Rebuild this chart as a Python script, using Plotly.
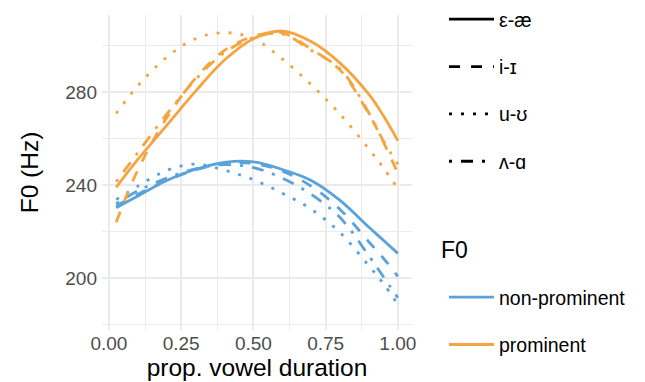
import plotly.graph_objects as go

# ---- data ----
x_prop = [0.025, 0.1, 0.2, 0.3, 0.4, 0.5, 0.6, 0.7, 0.8, 0.9, 0.95, 1.0]

vowels = ["ε-æ", "i-ɪ", "u-ʊ", "ʌ-ɑ"]
prominence = ["non-prominent", "prominent"]

# prominent (orange)
prom_eae = [239.0, 251.0, 265.7, 280.4, 293.8, 303.0, 306.3, 301.8, 292.5, 279.0, 269.8, 259.1]
prom_iI = [224.0, 246.5, 269.0, 286.0, 298.0, 304.0, 305.5, 298.5, 289.5, 270.5, 258.5, 245.0]
prom_uU = [270.8, 282.7, 295.0, 303.0, 305.6, 303.0, 294.3, 283.2, 270.5, 255.5, 247.4, 238.5]
prom_Va = [241.4, 254.0, 270.5, 285.5, 297.0, 303.5, 305.0, 298.0, 290.0, 271.0, 259.0, 249.0]

# non-prominent (blue)
nonp_eae = [230.2, 235.3, 242.0, 246.8, 249.8, 250.0, 246.7, 242.0, 233.4, 221.8, 216.2, 210.6]
nonp_iI = [231.0, 236.0, 242.0, 246.5, 249.3, 249.3, 246.0, 239.5, 229.5, 215.5, 208.5, 200.7]
nonp_uU = [233.7, 239.5, 246.3, 249.0, 246.4, 242.3, 236.5, 229.6, 219.5, 205.2, 197.6, 188.6]
nonp_Va = [232.0, 237.5, 243.0, 247.0, 248.8, 247.5, 243.0, 236.0, 226.0, 209.5, 200.5, 191.5]

x_ticks = [0.0, 0.25, 0.5, 0.75, 1.0]
x_ticklabels = ["0.00", "0.25", "0.50", "0.75", "1.00"]
y_ticks = [200, 240, 280]

# ---- styles ----
colors = {"non-prominent": "#5AA3DA", "prominent": "#F5A540"}
LW = 2.8
dashes = {
    "ε-æ": "solid",
    "i-ɪ": "11px,11px",
    "u-ʊ": "3px,9px",
    "ʌ-ɑ": "3px,9px,12px,9px",
}

series = {
    ("non-prominent", "ε-æ"): nonp_eae,
    ("non-prominent", "i-ɪ"): nonp_iI,
    ("non-prominent", "u-ʊ"): nonp_uU,
    ("non-prominent", "ʌ-ɑ"): nonp_Va,
    ("prominent", "ε-æ"): prom_eae,
    ("prominent", "i-ɪ"): prom_iI,
    ("prominent", "u-ʊ"): prom_uU,
    ("prominent", "ʌ-ɑ"): prom_Va,
}

FONT = "Liberation Sans, Arial, DejaVu Sans, sans-serif"

fig = go.Figure()
for (p, v), ys in series.items():
    fig.add_trace(go.Scatter(
        x=x_prop, y=ys, mode="lines",
        line=dict(color=colors[p], width=LW, dash=dashes[v], shape="spline", smoothing=1.0),
        showlegend=False, hoverinfo="skip",
    ))

# legend entries: linetype
for v in vowels:
    fig.add_trace(go.Scatter(
        x=[None], y=[None], mode="lines", name=v,
        line=dict(color="black", width=LW, dash=dashes[v]),
        legend="legend", legendgroup="lt_" + v,
    ))
# legend entries: colour
for p in prominence:
    fig.add_trace(go.Scatter(
        x=[None], y=[None], mode="lines", name=p,
        line=dict(color=colors[p], width=LW),
        legend="legend2", legendgroup="col_" + p,
    ))

grid_col = "#EBEBEB"
W, H = 645, 382
PL, PR, PT, PB = 94, 404, 7, 322  # plot panel in pixels
fig.update_layout(
    width=W, height=H,
    margin=dict(l=PL, r=W - PR, t=PT, b=H - PB, autoexpand=False),
    paper_bgcolor="white", plot_bgcolor="white",
    font=dict(family=FONT, color="black", size=20),
    xaxis=dict(
        range=[-0.024, 1.049], tickvals=x_ticks, ticktext=x_ticklabels,
        showgrid=True, gridcolor=grid_col, gridwidth=1.8,
        minor=dict(dtick=0.125, tick0=0.125, showgrid=True, gridcolor=grid_col,
                   gridwidth=0.9, ticks=""),
        zeroline=False, showline=False, ticks="",
        tickfont=dict(size=19, color="#4D4D4D"), ticklabelstandoff=0,
        title=dict(text="prop. vowel duration", font=dict(size=24.5, color="black"), standoff=0),
    ),
    yaxis=dict(
        range=[177.6, 313.2], tickvals=y_ticks,
        showgrid=True, gridcolor=grid_col, gridwidth=1.8,
        minor=dict(tickvals=[180, 220, 260, 300], showgrid=True, gridcolor=grid_col,
                   gridwidth=0.9, ticks=""),
        zeroline=False, showline=False, ticks="",
        tickfont=dict(size=19, color="#4D4D4D"), ticklabelstandoff=4,
        title=dict(text="F0 (Hz)", font=dict(size=24.5, color="black"), standoff=19),
    ),
    legend=dict(
        x=(436 - PL) / (PR - PL), xref="paper", xanchor="left",
        y=1 + (PT + 8) / (PB - PT), yref="paper", yanchor="top",
        tracegroupgap=19, itemwidth=45, font=dict(size=19.5),
        bgcolor="rgba(0,0,0,0)", itemclick=False, itemdoubleclick=False,
    ),
    legend2=dict(
        x=(436 - PL) / (PR - PL), xref="paper", xanchor="left",
        y=1 - (270 - PT) / (PB - PT), yref="paper", yanchor="top",
        tracegroupgap=19, itemwidth=45, font=dict(size=19.5),
        bgcolor="rgba(0,0,0,0)", itemclick=False, itemdoubleclick=False,
    ),
    annotations=[dict(
        text="F0", xref="paper", yref="paper",
        x=(431 - PL) / (PR - PL), y=1 - (242 - PT) / (PB - PT),
        xanchor="left", yanchor="middle",
        showarrow=False, font=dict(size=23, color="black"),
    )],
)

fig.write_html("out.html")
